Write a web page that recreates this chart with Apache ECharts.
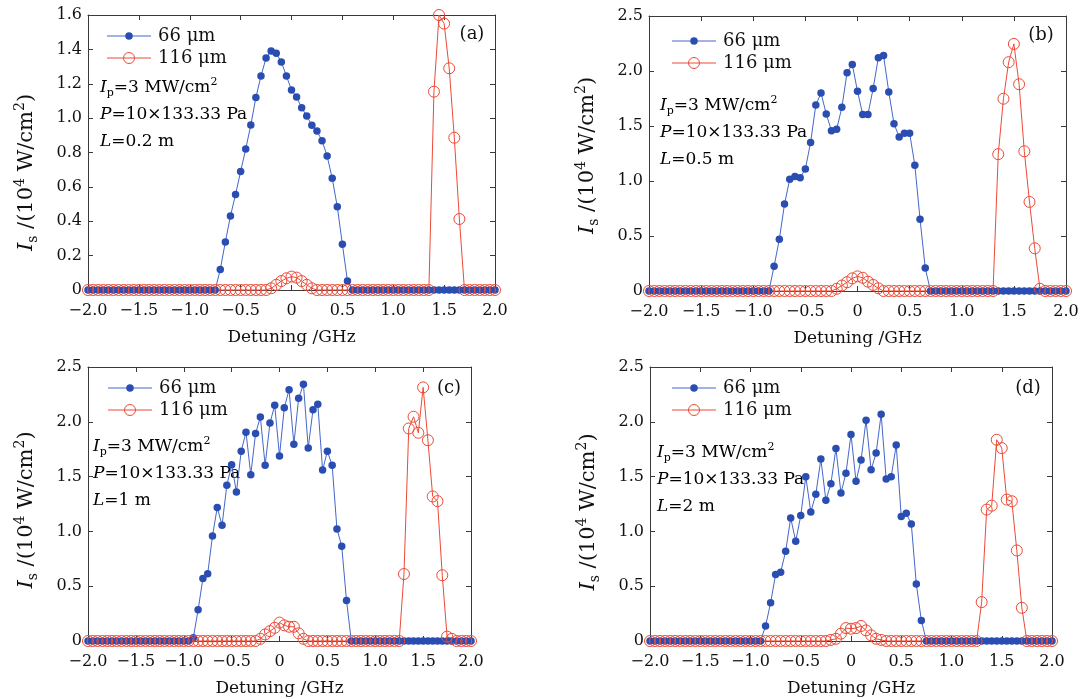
<!DOCTYPE html>
<html>
<head>
<meta charset="utf-8">
<script src="https://cdn.jsdelivr.net/npm/echarts@6/dist/echarts.min.js"></script>
<style>
  html, body { margin: 0; padding: 0; background: #ffffff; }
  #chart { width: 1091px; height: 699px; }
</style>
</head>
<body>
<div id="chart"></div>
<script>
// Detuning grid (GHz), shared by all four panels
const detuning = [
  -2.00, -1.95, -1.90, -1.85, -1.80, -1.75, -1.70, -1.65, -1.60, -1.55,
  -1.50, -1.45, -1.40, -1.35, -1.30, -1.25, -1.20, -1.15, -1.10, -1.05,
  -1.00, -0.95, -0.90, -0.85, -0.80, -0.75, -0.70, -0.65, -0.60, -0.55,
  -0.50, -0.45, -0.40, -0.35, -0.30, -0.25, -0.20, -0.15, -0.10, -0.05,
   0.00,  0.05,  0.10,  0.15,  0.20,  0.25,  0.30,  0.35,  0.40,  0.45,
   0.50,  0.55,  0.60,  0.65,  0.70,  0.75,  0.80,  0.85,  0.90,  0.95,
   1.00,  1.05,  1.10,  1.15,  1.20,  1.25,  1.30,  1.35,  1.40,  1.45,
   1.50,  1.55,  1.60,  1.65,  1.70,  1.75,  1.80,  1.85,  1.90,  1.95,
   2.00
];

// Stokes intensity I_s (10^4 W/cm^2), 66 um fibre
const s66_L02 = [
  0, 0, 0, 0, 0, 0, 0, 0, 0, 0,
  0, 0, 0, 0, 0, 0, 0, 0, 0, 0,
  0, 0, 0, 0, 0, 0, 0.12, 0.28, 0.43, 0.555,
  0.69, 0.82, 0.96, 1.12, 1.245, 1.35, 1.39, 1.377, 1.327, 1.245,
  1.164, 1.123, 1.06, 1.012, 0.958, 0.925, 0.869, 0.78, 0.65, 0.485,
  0.266, 0.052, 0, 0, 0, 0, 0, 0, 0, 0,
  0, 0, 0, 0, 0, 0, 0, 0, 0, 0,
  0, 0, 0, 0, 0, 0, 0, 0, 0, 0,
  0
];
const s66_L05 = [
  0, 0, 0, 0, 0, 0, 0, 0, 0, 0,
  0, 0, 0, 0, 0, 0, 0, 0, 0, 0,
  0, 0, 0, 0, 0.225, 0.47, 0.79, 1.017, 1.04, 1.03,
  1.11, 1.35, 1.69, 1.80, 1.61, 1.457, 1.47, 1.67, 1.985, 2.06,
  1.815, 1.605, 1.605, 1.84, 2.12, 2.14, 1.81, 1.52, 1.40, 1.435,
  1.435, 1.144, 0.652, 0.21, 0, 0, 0, 0, 0, 0,
  0, 0, 0, 0, 0, 0, 0, 0, 0, 0,
  0, 0, 0, 0, 0, 0, 0, 0, 0, 0,
  0
];
const s66_L1 = [
  0, 0, 0, 0, 0, 0, 0, 0, 0, 0,
  0, 0, 0, 0, 0, 0, 0, 0, 0, 0,
  0, 0, 0.03, 0.284, 0.571, 0.614, 0.959, 1.218, 1.056, 1.42,
  1.609, 1.359, 1.731, 1.905, 1.518, 1.893, 2.043, 1.603, 1.988, 2.15,
  1.689, 2.128, 2.293, 1.795, 2.214, 2.342, 1.762, 2.11, 2.159, 1.56,
  1.731, 1.603, 1.023, 0.864, 0.369, 0, 0, 0, 0, 0,
  0, 0, 0, 0, 0, 0, 0, 0, 0, 0,
  0, 0, 0, 0, 0, 0, 0, 0, 0, 0,
  0
];
const s66_L2 = [
  0, 0, 0, 0, 0, 0, 0, 0, 0, 0,
  0, 0, 0, 0, 0, 0, 0, 0, 0, 0,
  0, 0, 0, 0.137, 0.349, 0.607, 0.628, 0.819, 1.123, 0.91,
  1.144, 1.499, 1.178, 1.338, 1.66, 1.284, 1.435, 1.757, 1.35, 1.53,
  1.885, 1.457, 1.651, 2.015, 1.563, 1.715, 2.07, 1.478, 1.499, 1.788,
  1.135, 1.165, 1.068, 0.519, 0.188, 0, 0, 0, 0, 0,
  0, 0, 0, 0, 0, 0, 0, 0, 0, 0,
  0, 0, 0, 0, 0, 0, 0, 0, 0, 0,
  0
];

// Stokes intensity I_s (10^4 W/cm^2), 116 um fibre
const s116_L02 = [
  0, 0, 0, 0, 0, 0, 0, 0, 0, 0,
  0, 0, 0, 0, 0, 0, 0, 0, 0, 0,
  0, 0, 0, 0, 0, 0, 0, 0, 0, 0,
  0, 0, 0, 0, 0, 0, 0.01, 0.03, 0.052, 0.068,
  0.078, 0.072, 0.052, 0.03, 0.01, 0, 0, 0, 0, 0,
  0, 0, 0, 0, 0, 0, 0, 0, 0, 0,
  0, 0, 0, 0, 0, 0, 0, 0, 1.154, 1.60,
  1.55, 1.29, 0.886, 0.413, 0, 0, 0, 0, 0, 0,
  0
];
const s116_L05 = [
  0, 0, 0, 0, 0, 0, 0, 0, 0, 0,
  0, 0, 0, 0, 0, 0, 0, 0, 0, 0,
  0, 0, 0, 0, 0, 0, 0, 0, 0, 0,
  0, 0, 0, 0, 0, 0, 0.02, 0.05, 0.08, 0.115,
  0.133, 0.12, 0.085, 0.055, 0.025, 0, 0, 0, 0, 0,
  0, 0, 0, 0, 0, 0, 0, 0, 0, 0,
  0, 0, 0, 0, 0, 0, 0, 1.244, 1.748, 2.08,
  2.246, 1.88, 1.27, 0.81, 0.388, 0.02, 0, 0, 0, 0,
  0
];
const s116_L1 = [
  0, 0, 0, 0, 0, 0, 0, 0, 0, 0,
  0, 0, 0, 0, 0, 0, 0, 0, 0, 0,
  0, 0, 0, 0, 0, 0, 0, 0, 0, 0,
  0, 0, 0, 0, 0, 0, 0.02, 0.06, 0.09, 0.12,
  0.168, 0.143, 0.13, 0.13, 0.07, 0.02, 0, 0, 0, 0,
  0, 0, 0, 0, 0, 0, 0, 0, 0, 0,
  0, 0, 0, 0, 0, 0, 0.611, 1.939, 2.046, 1.90,
  2.314, 1.832, 1.319, 1.276, 0.60, 0.04, 0.02, 0, 0, 0,
  0
];
const s116_L2 = [
  0, 0, 0, 0, 0, 0, 0, 0, 0, 0,
  0, 0, 0, 0, 0, 0, 0, 0, 0, 0,
  0, 0, 0, 0, 0, 0, 0, 0, 0, 0,
  0, 0, 0, 0, 0, 0, 0.01, 0.02, 0.067, 0.118,
  0.112, 0.118, 0.137, 0.097, 0.052, 0.02, 0.01, 0, 0, 0,
  0, 0, 0, 0, 0, 0, 0, 0, 0, 0,
  0, 0, 0, 0, 0, 0, 0.355, 1.199, 1.235, 1.836,
  1.76, 1.29, 1.275, 0.826, 0.303, 0, 0, 0, 0, 0,
  0
];

const seriesNames = ['66 μm', '116 μm'];
const panelTags = ['(a)', '(b)', '(c)', '(d)'];
const fibreLengths = ['0.2 m', '0.5 m', '1 m', '2 m'];
const yMaxima = [1.6, 2.5, 2.5, 2.5];
const yIntervals = [0.2, 0.5, 0.5, 0.5];

const FONT = 'DejaVu Serif';
const INK = '#111111';
const AXIS = '#3a3a3a';
const BLUE_MARK = '#2a4db2';
const BLUE_LINE = '#4467c9';
const RED = '#ec4a36';

// Layout of the four plot boxes (pixels); titleShift moves the y title toward the axis origin
const layout = [
  { grid: { left: 88,  top: 15,  width: 407, height: 275 }, legend: [107, 36], note: [100, 88],  tag: [472, 34], titleShift: 20 },
  { grid: { left: 649, top: 16,  width: 417, height: 275 }, legend: [672, 41], note: [660, 106], tag: [1041, 35], titleShift: 2 },
  { grid: { left: 88,  top: 367, width: 383, height: 274 }, legend: [108, 388], note: [93, 447], tag: [449, 388], titleShift: 6 },
  { grid: { left: 650, top: 367, width: 402, height: 274 }, legend: [672, 388], note: [657, 453], tag: [1028, 388], titleShift: 8 }
];

const blueSets = [s66_L02, s66_L05, s66_L1, s66_L2];
const redSets = [s116_L02, s116_L05, s116_L1, s116_L2];

const pairs = arr => detuning.map((x, i) => [x, arr[i]]);

function xLabel(v) {
  if (Math.abs(v) < 1e-9) return '0';
  return (v < 0 ? '\u2212' : '') + Math.abs(v).toFixed(1);
}
function yLabel(v) {
  if (Math.abs(v) < 1e-9) return '0';
  return v.toFixed(1);
}

const richNote = {
  n: { fontFamily: FONT, fontSize: 17, color: INK, lineHeight: 22 },
  i: { fontFamily: FONT, fontSize: 17, color: INK, fontStyle: 'italic', lineHeight: 22 },
  sub: { fontFamily: FONT, fontSize: 11, color: INK, lineHeight: 11, verticalAlign: 'bottom' },
  sup: { fontFamily: FONT, fontSize: 11, color: INK, lineHeight: 11, verticalAlign: 'top' }
};
const richTitle = {
  n: { fontFamily: FONT, fontSize: 21, color: INK, lineHeight: 27 },
  i: { fontFamily: FONT, fontSize: 21, color: INK, fontStyle: 'italic', lineHeight: 27 },
  sub: { fontFamily: FONT, fontSize: 14, color: INK, lineHeight: 13, verticalAlign: 'bottom' },
  sup: { fontFamily: FONT, fontSize: 14, color: INK, lineHeight: 13, verticalAlign: 'top' }
};

const grids = [], xAxes = [], yAxes = [], series = [], graphics = [];

layout.forEach((p, k) => {
  grids.push(Object.assign({ containLabel: false }, p.grid));
  const tick = { show: true, inside: true, length: 5, lineStyle: { color: AXIS, width: 1 } };
  const line = { show: true, onZero: false, lineStyle: { color: AXIS, width: 1 } };
  // bottom / top x axes
  xAxes.push({
    type: 'value', gridIndex: k, min: -2, max: 2, interval: 0.5, position: 'bottom',
    axisLine: line, axisTick: tick, splitLine: { show: false },
    axisLabel: { formatter: xLabel, fontFamily: FONT, fontSize: 16, color: INK, margin: 13 },
    name: 'Detuning /GHz', nameLocation: 'middle', nameGap: 39,
    nameTextStyle: { fontFamily: FONT, fontSize: 17, color: INK }
  });
  xAxes.push({
    type: 'value', gridIndex: k, min: -2, max: 2, interval: 0.5, position: 'top',
    axisLine: line, axisTick: tick, splitLine: { show: false }, axisLabel: { show: false }
  });
  // left / right y axes
  yAxes.push({
    type: 'value', gridIndex: k, min: 0, max: yMaxima[k], interval: yIntervals[k], position: 'left',
    axisLine: line, axisTick: tick, splitLine: { show: false },
    axisLabel: { formatter: yLabel, fontFamily: FONT, fontSize: 16, color: INK, margin: 6 },
    name: '{i|I}{sub|s}{n| /(10}{sup|4}{n| W/cm}{sup|2}{n|)}',
    nameLocation: 'middle', nameRotate: 90, nameGap: 48,
    nameTextStyle: { rich: richTitle, padding: [0, 2 * p.titleShift, 0, 0] }
  });
  yAxes.push({
    type: 'value', gridIndex: k, min: 0, max: yMaxima[k], interval: yIntervals[k], position: 'right',
    axisLine: line, axisTick: tick, splitLine: { show: false }, axisLabel: { show: false }
  });

  series.push({
    type: 'line', name: seriesNames[0], xAxisIndex: 2 * k, yAxisIndex: 2 * k,
    data: pairs(blueSets[k]), symbol: 'circle', symbolSize: 7.5, showSymbol: true, clip: false,
    lineStyle: { color: BLUE_LINE, width: 1 }, itemStyle: { color: BLUE_MARK },
    emphasis: { disabled: true }
  });
  series.push({
    type: 'line', name: seriesNames[1], xAxisIndex: 2 * k, yAxisIndex: 2 * k,
    data: pairs(redSets[k]), symbol: 'circle', symbolSize: 11, showSymbol: true, clip: false,
    lineStyle: { color: RED, width: 1 },
    itemStyle: { color: 'rgba(255,255,255,0)', borderColor: RED, borderWidth: 1 },
    emphasis: { disabled: true }
  });

  // legend block: line + marker + label for each fibre
  const [lx, ly] = p.legend;
  const rowGap = 22;
  [0, 1].forEach(r => {
    const y = ly + r * rowGap;
    graphics.push({ type: 'line', shape: { x1: lx, y1: y, x2: lx + 44, y2: y },
      style: { stroke: r === 0 ? BLUE_LINE : RED, lineWidth: 1 }, silent: true });
    graphics.push(r === 0
      ? { type: 'circle', shape: { cx: lx + 22, cy: y, r: 3.75 }, style: { fill: BLUE_MARK }, silent: true }
      : { type: 'circle', shape: { cx: lx + 22, cy: y, r: 5.5 }, style: { fill: 'none', stroke: RED, lineWidth: 1 }, silent: true });
    graphics.push({ type: 'text', x: lx + 51, y: y, silent: true,
      style: { text: seriesNames[r], font: '18px "' + FONT + '"', fill: INK, verticalAlign: 'middle', align: 'left' } });
  });

  // pump / pressure / length annotation
  const [nx, ny] = p.note;
  const noteLines = [
    '{i|I}{sub|p}{n|=3 MW/cm}{sup|2}',
    '{i|P}{n|=10×133.33 Pa}',
    '{i|L}{n|=' + fibreLengths[k] + '}'
  ];
  noteLines.forEach((t, r) => {
    graphics.push({ type: 'text', x: nx, y: ny + r * 27, silent: true,
      style: { text: t, rich: richNote, verticalAlign: 'middle', align: 'left' } });
  });

  // panel tag
  graphics.push({ type: 'text', x: p.tag[0], y: p.tag[1], silent: true,
    style: { text: panelTags[k], font: '18px "' + FONT + '"', fill: INK, align: 'center', verticalAlign: 'middle' } });
});

const chart = echarts.init(document.getElementById('chart'), null, { renderer: 'canvas' });
chart.setOption({
  animation: false,
  backgroundColor: '#ffffff',
  grid: grids,
  xAxis: xAxes,
  yAxis: yAxes,
  series: series,
  graphic: { elements: graphics }
});
</script>
</body>
</html>
